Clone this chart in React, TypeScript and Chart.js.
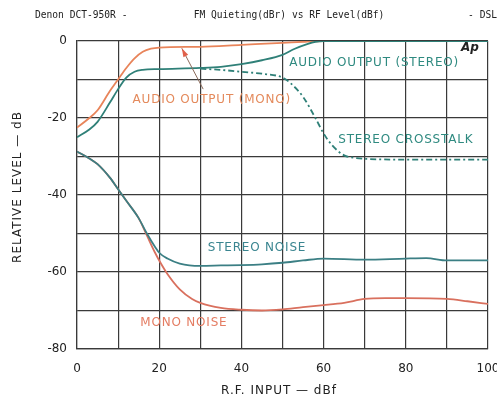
import React, { useEffect, useRef } from "react";
import { Chart, registerables } from "chart.js";

Chart.register(...registerables);

const monoOutX = [0, 3, 5, 8, 10, 12, 14, 16, 18, 20, 30, 40, 50, 55, 60, 100];
const monoOutY = [-22.5, -20, -18, -13, -10, -7, -4.5, -2.8, -2, -1.7, -1.5, -1, -0.5, -0.2, 0, 0];

const stereoOutX = [0, 3, 5, 8, 10, 12, 14, 16, 20, 30, 35, 40, 45, 50, 53, 56, 58, 60, 100];
const stereoOutY = [-25, -23, -21, -16, -12.5, -9.5, -8, -7.5, -7.3, -7, -6.7, -6, -5, -3.6, -2, -0.8, -0.2, 0, 0];

const crosstalkX = [30, 35, 40, 45, 50, 52, 55, 58, 60, 62, 65, 68, 70, 80, 90, 100];
const crosstalkY = [-7.2, -7.5, -8, -8.5, -9.5, -11, -14.5, -20, -24, -27, -29.7, -30.4, -30.6, -30.8, -30.8, -30.8];

const stereoNoiseX = [0, 3, 5, 8, 10, 12, 15, 17, 19, 20, 22, 25, 30, 35, 40, 45, 50, 55, 60, 70, 80, 85, 90, 100];
const stereoNoiseY = [-28.7, -30.5, -32, -35.5, -38.5, -41.5, -46, -50, -53.5, -55, -56.5, -57.8, -58.4, -58.3, -58.2, -58, -57.6, -57, -56.5, -56.8, -56.5, -56.4, -57, -57];

const monoNoiseX = [0, 3, 5, 8, 10, 12, 15, 17, 19, 20, 22, 25, 28, 30, 35, 40, 45, 50, 55, 60, 65, 70, 75, 80, 90, 95, 100];
const monoNoiseY = [-28.7, -30.5, -32, -35.5, -38.5, -41.5, -46, -50.5, -55, -57, -60.5, -64.5, -67, -68, -69.3, -69.8, -70, -69.7, -69.1, -68.6, -68, -67, -66.8, -66.8, -67, -67.6, -68.3];

const xTicks = [0, 20, 40, 60, 80, 100];
const yTicks = [0, -20, -40, -60, -80];

const titleLeft = "Denon DCT-950R -";
const titleCenter = "FM Quieting(dBr) vs RF Level(dBf)";
const titleRight = "- DSL";
const xTitle = "R.F. INPUT \u2014 dBf";
const yTitle = "RELATIVE LEVEL \u2014 dB";

const labelTexts = ["AUDIO OUTPUT (STEREO)", "AUDIO OUTPUT (MONO)", "STEREO CROSSTALK", "STEREO NOISE", "MONO NOISE"];
const labelX = [72.3, 32.8, 80, 43.8, 26];
const labelY = [-5.7, -15.3, -25.7, -53.8, -73.2];
const labelColors = ["#2f8a80", "#e48a5c", "#2f8a80", "#3a8590", "#e47c62"];

const arrowFrom = { x: 30.7, y: -12.5 };
const arrowTo = { x: 25.5, y: -1.9 };

const pts = (xs: number[], ys: number[]) => xs.map((x, i) => ({ x, y: ys[i] }));

const FONT = "'DejaVu Sans', sans-serif";

const annotations = {
  id: "annotations",
  afterDraw(chart: any) {
    const ctx = chart.ctx as CanvasRenderingContext2D;
    const xs = chart.scales.x;
    const ys = chart.scales.y;
    ctx.save();
    ctx.fillStyle = "#222";
    ctx.font = `9.6px 'DejaVu Sans Mono', monospace`;
    ctx.textBaseline = "middle";
    ctx.textAlign = "left";
    ctx.fillText(titleLeft, 35, 15);
    ctx.textAlign = "center";
    ctx.fillText(titleCenter, 289, 15);
    ctx.textAlign = "right";
    ctx.fillText(titleRight, 497, 15);

    ctx.font = `12px ${FONT}`;
    (ctx as any).letterSpacing = "1px";
    ctx.textAlign = "center";
    ctx.fillStyle = "#222";
    ctx.fillText(xTitle, 279, 391);
    ctx.save();
    ctx.translate(18, 187);
    ctx.rotate(-Math.PI / 2);
    ctx.fillText(yTitle, 0, 0);
    ctx.restore();

    ctx.font = `12px ${FONT}`;
    (ctx as any).letterSpacing = "0.8px";
    labelTexts.forEach((t, i) => {
      ctx.fillStyle = labelColors[i];
      ctx.fillText(t, xs.getPixelForValue(labelX[i]), ys.getPixelForValue(labelY[i]));
    });
    (ctx as any).letterSpacing = "0px";

    ctx.fillStyle = "#222";
    ctx.font = `italic bold 12px ${FONT}`;
    ctx.fillText("Ap", xs.getPixelForValue(95.6), ys.getPixelForValue(-1.9));

    const x1 = xs.getPixelForValue(arrowFrom.x), y1 = ys.getPixelForValue(arrowFrom.y);
    const x2 = xs.getPixelForValue(arrowTo.x), y2 = ys.getPixelForValue(arrowTo.y);
    ctx.strokeStyle = "#8a6a5a";
    ctx.lineWidth = 1;
    ctx.beginPath();
    ctx.moveTo(x1, y1);
    ctx.lineTo(x2, y2);
    ctx.stroke();
    const ang = Math.atan2(y2 - y1, x2 - x1);
    ctx.fillStyle = "#e0604a";
    ctx.beginPath();
    ctx.moveTo(x2, y2);
    ctx.lineTo(x2 - 9 * Math.cos(ang - 0.3), y2 - 9 * Math.sin(ang - 0.3));
    ctx.lineTo(x2 - 9 * Math.cos(ang + 0.3), y2 - 9 * Math.sin(ang + 0.3));
    ctx.closePath();
    ctx.fill();
    ctx.restore();
  },
};

export default function App() {
  const ref = useRef<HTMLCanvasElement>(null);
  useEffect(() => {
    if (!ref.current) return;
    const common = { pointRadius: 0, borderWidth: 1.8, cubicInterpolationMode: "monotone" as const, fill: false };
    const chart = new Chart(ref.current, {
      type: "line",
      data: {
        datasets: [
          { ...common, label: "Audio Output (Stereo)", data: pts(stereoOutX, stereoOutY), borderColor: "#2f8078" },
          { ...common, label: "Audio Output (Mono)", data: pts(monoOutX, monoOutY), borderColor: "#e8845a" },
          { ...common, label: "Stereo Crosstalk", data: pts(crosstalkX, crosstalkY), borderColor: "#2f8078", borderDash: [6, 3, 2, 3] },
          { ...common, label: "Stereo Noise", data: pts(stereoNoiseX, stereoNoiseY), borderColor: "#3b7f84" },
          { ...common, label: "Mono Noise", data: pts(monoNoiseX, monoNoiseY), borderColor: "#d9705e" },
        ],
      },
      options: {
        animation: false,
        responsive: false,
        maintainAspectRatio: false,
        layout: { padding: { top: 41, right: 9, left: 0, bottom: 0 } },
        plugins: { legend: { display: false }, tooltip: { enabled: false }, title: { display: false } },
        scales: {
          x: {
            type: "linear",
            min: 0,
            max: 100,
            afterFit: (s: any) => { s.height = 51; s.paddingLeft = 0; s.paddingRight = 0; },
            afterBuildTicks: (s: any) => { s.ticks = Array.from({ length: 11 }, (_, i) => ({ value: i * 10 })); },
            ticks: {
              autoSkip: false,
              maxRotation: 0,
              padding: 13,
              color: "#222",
              font: { family: FONT, size: 12 },
              callback: (v: any) => (xTicks.includes(Number(v)) ? String(v) : ""),
            },
            grid: { color: "#3a3a3a", lineWidth: 1.2, drawTicks: false },
            border: { color: "#3a3a3a", width: 1.2 },
          },
          y: {
            type: "linear",
            min: -80,
            max: 0,
            afterFit: (s: any) => { s.width = 77; s.paddingTop = 0; s.paddingBottom = 0; },
            afterBuildTicks: (s: any) => { s.ticks = Array.from({ length: 9 }, (_, i) => ({ value: -80 + i * 10 })); },
            ticks: {
              autoSkip: false,
              padding: 10,
              color: "#222",
              font: { family: FONT, size: 12 },
              callback: (v: any) => (yTicks.includes(Number(v)) ? String(v) : ""),
            },
            grid: { color: "#3a3a3a", lineWidth: 1.2, drawTicks: false },
            border: { color: "#3a3a3a", width: 1.2 },
          },
        },
      },
      plugins: [annotations],
    });
    return () => chart.destroy();
  }, []);
  return (
    <div style={{ position: "absolute", left: 0, top: 0, width: 497, height: 400, background: "#fff" }}>
      <canvas ref={ref} width={497} height={400} style={{ width: 497, height: 400, display: "block" }} />
    </div>
  );
}
